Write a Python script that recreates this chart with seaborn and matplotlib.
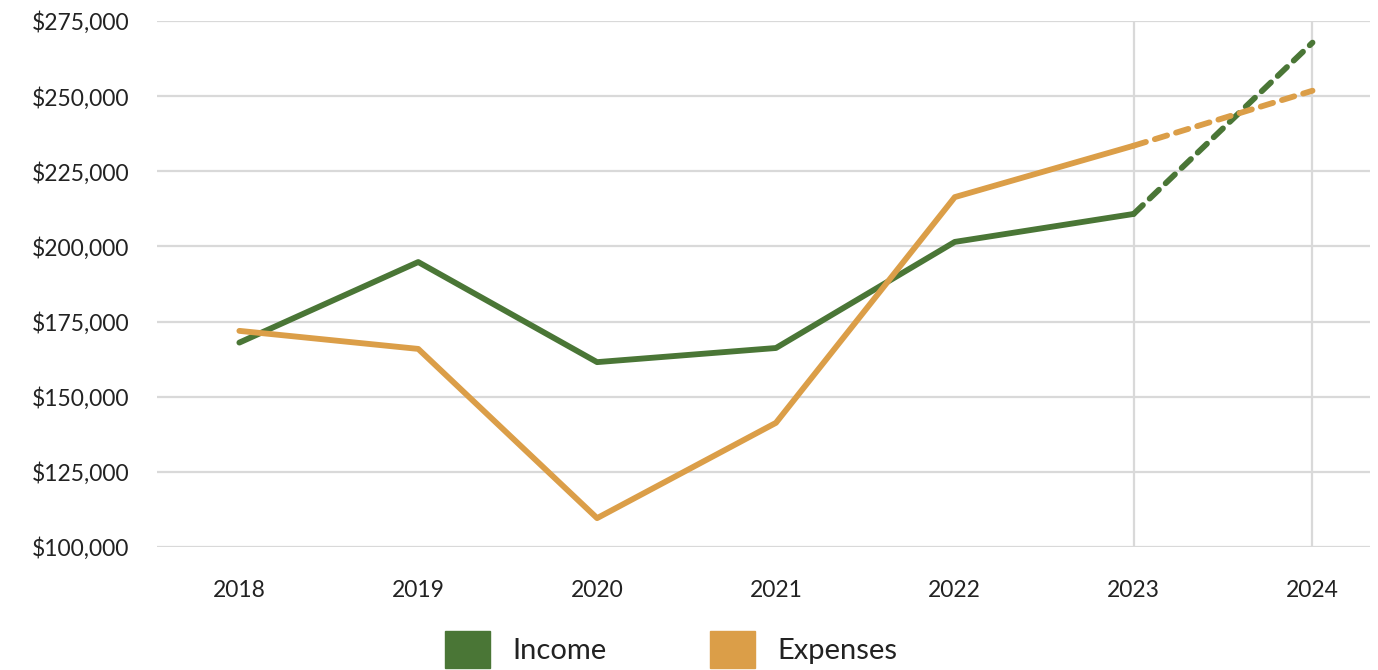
import pandas as pd
import numpy as np
import matplotlib.pyplot as plt
import seaborn as sns
from matplotlib.patches import Patch
from matplotlib.ticker import FuncFormatter

# Data
years = [2018, 2019, 2020, 2021, 2022, 2023, 2024]
year_labels = ["2018", "2019", "2020", "2021", "2022", "2023", "2024"]
income = [168000, 194800, 161500, 166200, 201500, 210800, 267800]
expenses = [171900, 165900, 109600, 141300, 216400, 233500, 251800]
forecast_from = 2023  # last actual year, dashed after this

green = "#4a7636"
orange = "#db9e48"
grid = "#d9d9d9"

df = pd.DataFrame({"Year": years, "Income": income, "Expenses": expenses})
actual = df[df["Year"] <= forecast_from]
forecast = df[df["Year"] >= forecast_from]

sns.set_style("white")
plt.rcParams["font.family"] = ["Lato", "DejaVu Sans"]

fig = plt.figure(figsize=(13.78, 6.7), dpi=100)
ax = fig.add_axes([0.114, 0.1836, 0.88, 0.7851])

# vertical reference lines for the last two years
for yr in years[-2:]:
    ax.axvline(yr, color=grid, lw=1.6, zorder=0)

for col, c in [("Income", green), ("Expenses", orange)]:
    sns.lineplot(data=actual, x="Year", y=col, ax=ax, color=c, lw=4.2,
                 solid_capstyle="round", solid_joinstyle="round")
    sns.lineplot(data=forecast, x="Year", y=col, ax=ax, color=c, lw=4.2,
                 dashes=False, linestyle=(0, (2.2, 1.6)),
                 dash_capstyle="round")

ax.set_ylim(100000, 275000)
ax.set_yticks(np.arange(100000, 275001, 25000))
ax.yaxis.set_major_formatter(FuncFormatter(lambda v, p: f"${v:,.0f}"))
ax.set_xlim(2017.54, 2024.32)
ax.set_xticks(years)
ax.set_xticklabels(year_labels)
ax.grid(axis="y", color=grid, lw=1.6)
ax.set_axisbelow(True)
for s in ax.spines.values():
    s.set_visible(False)
ax.set_xlabel("")
ax.set_ylabel("")
ax.tick_params(axis="y", length=0, pad=20, labelsize=16.5, labelcolor="#222222")
ax.tick_params(axis="x", length=0, pad=24, labelsize=16.5, labelcolor="#222222")

handles = [Patch(color=green, label="Income"), Patch(color=orange, label="Expenses")]
fig.legend(handles=handles, loc="lower center", ncol=2, frameon=False,
           bbox_to_anchor=(0.487, -0.036), fontsize=21, handlelength=1.55,
           handleheight=1.55, handletextpad=0.75, columnspacing=3.55,
           labelcolor="#222222")

fig.savefig("out.png", dpi=100)
